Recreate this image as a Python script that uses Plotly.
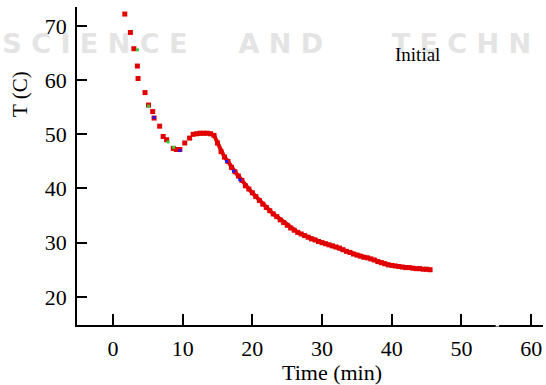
import plotly.graph_objects as go

# Sparse early cooling points (time in min, temperature in C)
early_t = [1.7, 2.5, 3.0, 3.5, 3.6, 4.6, 5.1, 5.7, 5.9, 6.7, 7.2, 7.7, 8.65, 9.1, 9.6, 10.3, 11.0]
early_T = [72.2, 68.8, 65.8, 62.6, 60.3, 57.7, 55.4, 54.2, 53.0, 51.5, 49.6, 49.0, 47.4, 47.2, 47.2, 48.4, 49.3]

# Dense part of the record
dense_t = [11.5, 12, 12.5, 13, 13.5, 14, 14.5, 15, 15.5, 16, 16.5, 17, 17.5, 18, 18.5, 19, 19.5,
           20, 20.5, 21, 21.5, 22, 22.5, 23, 23.5, 24, 24.5, 25, 25.5, 26, 26.5, 27, 27.5,
           28, 28.5, 29, 29.5, 30, 30.5, 31, 31.5, 32, 32.5, 33, 33.5, 34, 34.5, 35, 35.5,
           36, 36.5, 37, 37.5, 38, 38.5, 39, 39.5, 40, 40.5, 41, 41.5, 42, 42.5, 43, 43.5,
           44, 44.5, 45, 45.5]
dense_T = [50.0, 50.1, 50.2, 50.2, 50.2, 50.1, 49.8, 48.4, 46.8, 45.8, 45.0, 43.9, 43.1, 42.3, 41.5, 40.5, 39.9,
           39.2, 38.5, 37.8, 37.1, 36.5, 35.9, 35.3, 34.8, 34.2, 33.7, 33.2, 32.7, 32.3, 31.9, 31.6, 31.3,
           31.0, 30.7, 30.5, 30.2, 30.0, 29.8, 29.6, 29.4, 29.2, 29.0, 28.7, 28.4, 28.2, 27.9, 27.7, 27.5,
           27.3, 27.2, 27.0, 26.8, 26.5, 26.3, 26.1, 25.9, 25.8, 25.7, 25.6, 25.5, 25.4, 25.4, 25.3, 25.2,
           25.2, 25.1, 25.1, 25.0]

# Partially hidden companion series
blue_t = [5.9, 9.6, 16.3, 17.3, 18.2]
blue_T = [53.1, 47.0, 45.0, 43.2, 41.6]
green_t = [3.5, 5.1, 7.9, 8.7]
green_T = [65.6, 55.2, 48.6, 47.6]

x_ticks = [0, 10, 20, 30, 40, 50, 60]
y_ticks = [20, 30, 40, 50, 60, 70]

# Faint background watermark from the scanned page
wm_words = ["S C I E N C E", "A N D", "T E C H N"]
wm_t = [-2.6, 24.1, 50.0]
wm_T = [66.3, 66.3, 66.3]

RED = "#e00000"

fig = go.Figure()
fig.add_trace(go.Scatter(x=wm_t, y=wm_T, mode="text", text=wm_words, cliponaxis=False,
                         textfont=dict(family="DejaVu Sans", size=27, color="#e4e4e4", weight="bold"),
                         hoverinfo="skip", showlegend=False))
fig.add_trace(go.Scatter(x=early_t, y=early_T, mode="markers",
                         marker=dict(symbol="square", size=5, color=RED), showlegend=False))
fig.add_trace(go.Scatter(x=dense_t, y=dense_T, mode="lines+markers",
                         line=dict(color=RED, width=4),
                         marker=dict(symbol="square", size=5, color=RED), showlegend=False))
fig.add_trace(go.Scatter(x=green_t, y=green_T, mode="markers",
                         marker=dict(symbol="square", size=3, color="#33cc33"), showlegend=False))
fig.add_trace(go.Scatter(x=blue_t, y=blue_T, mode="markers",
                         marker=dict(symbol="square", size=3, color="#1a1aff"), showlegend=False))

fig.update_layout(
    width=546, height=385,
    margin=dict(l=77, r=3, t=7, b=60),
    paper_bgcolor="white", plot_bgcolor="white",
    font=dict(family="Liberation Serif", color="black"),
    xaxis=dict(range=[-5.16, 61.7], tickvals=x_ticks, ticks="inside", ticklen=11, tickwidth=1.5,
               tickcolor="black", showline=True, linecolor="black", linewidth=1.5,
               showgrid=False, zeroline=False, tickfont=dict(size=22), ticklabelstandoff=3),
    yaxis=dict(range=[14.8, 73.5], tickvals=y_ticks, ticks="inside", ticklen=10, tickwidth=1.5,
               tickcolor="black", showline=True, linecolor="black", linewidth=1.5,
               showgrid=False, zeroline=False, tickfont=dict(size=22), ticklabelstandoff=4),
    annotations=[
        dict(text="Time (min)", xref="paper", yref="paper", x=(332 - 77) / 466, y=-(372 - 325) / 318,
             xanchor="center", yanchor="middle", showarrow=False, font=dict(size=22)),
        dict(text="T (C)", xref="paper", yref="paper", x=-(77 - 20) / 466, y=(318 - 87) / 318,
             xanchor="center", yanchor="middle", textangle=-90, showarrow=False, font=dict(size=21)),
        dict(text="Initial", xref="paper", yref="paper", x=(417 - 77) / 466, y=(318 - 48) / 318,
             xanchor="center", yanchor="middle", showarrow=False, font=dict(size=19)),
    ],
    shapes=[
        dict(type="line", xref="x", yref="paper", x0=54.9, x1=55.4, y0=0, y1=0,
             line=dict(color="white", width=3), layer="above"),
    ],
)

fig.write_html("out.html", config={"displayModeBar": False},
               post_script="document.body.style.margin='0';document.body.style.padding='0';")
